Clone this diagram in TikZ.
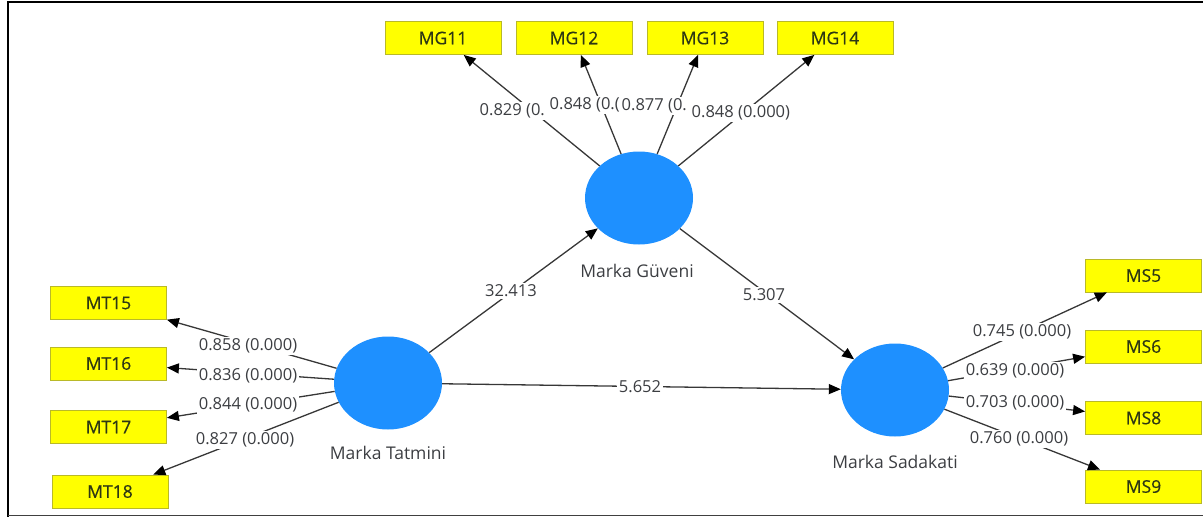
\documentclass[tikz,border=0pt]{standalone}
\usepackage{fontspec}
\setmainfont{Open Sans}
\newfontfamily\boxfont[FakeBold=0.4]{Open Sans}
\usetikzlibrary{shapes.geometric,arrows.meta}
\definecolor{lv}{RGB}{30,144,255}
\definecolor{ind}{RGB}{255,255,0}
\definecolor{indb}{RGB}{185,185,40}
\definecolor{ln}{RGB}{55,55,55}
\definecolor{txt}{RGB}{60,62,66}
\definecolor{boxtxt}{RGB}{45,55,20}
\begin{document}
\begin{tikzpicture}[x=1pt,y=-1pt,
 indbox/.style={draw=indb, fill=ind, line width=0.8pt, minimum width=116pt, minimum height=33pt, inner sep=0pt, font=\boxfont\fontsize{17.5}{19}\selectfont, text=boxtxt},
 latent/.style={ellipse, fill=lv, inner sep=0pt, minimum width=108pt, minimum height=93pt},
 lvlabel/.style={font=\fontsize{17.5}{19}\selectfont, text=txt},
 edgelbl/.style={fill=white, inner sep=1.5pt, font=\fontsize{16.5}{19}\selectfont, text=txt},
 arr/.style={draw=ln, line width=1.3pt, -{Triangle[length=12pt,width=10pt,color=black]}}]
\useasboundingbox (0,0) rectangle (1203,517);
% frame
\draw[line width=2.6pt] (8,517) -- (8,1.8) -- (1203,1.8);
\draw[line width=1.6pt, black!75] (8,515.6) -- (1203,515.6);
% latent variables
\node[latent] (MG) at (639,198) {};
\node[latent] (MT) at (388,383) {};
\node[latent] (MS) at (895,390) {};
\node[lvlabel] (MGl) at (637,271) {Marka Güveni};
\node[lvlabel] (MTl) at (388,453) {Marka Tatmini};
\node[lvlabel] (MSl) at (895,462) {Marka Sadakati};
% indicators
\node[indbox] (MG11) at (443,38) {MG11};
\node[indbox] (MG12) at (574,38) {MG12};
\node[indbox] (MG13) at (705,38) {MG13};
\node[indbox] (MG14) at (835,38) {MG14};
\node[indbox] (MT15) at (108.5,303) {MT15};
\node[indbox] (MT16) at (108.5,363.5) {MT16};
\node[indbox] (MT17) at (108.5,427) {MT17};
\node[indbox] (MT18) at (110,491.5) {MT18};
\node[indbox] (MS5) at (1143.5,275.5) {MS5};
\node[indbox] (MS6) at (1143.5,346.5) {MS6};
\node[indbox] (MS8) at (1143.5,418) {MS8};
\node[indbox] (MS9) at (1143.5,486.5) {MS9};
% connectors
\draw[arr] (MG) -- (MG11);
\draw[arr] (MG) -- (MG12);
\draw[arr] (MG) -- (MG13);
\draw[arr] (MG) -- (MG14);
\draw[arr] (MT) -- (MT15);
\draw[arr] (MT) -- (MT16);
\draw[arr] (MT) -- (MT17);
\draw[arr] (MT) -- (MT18);
\draw[arr] (MS) -- (MS5);
\draw[arr] (MS) -- (MS6);
\draw[arr] (MS) -- (MS8);
\draw[arr] (MS) -- (MS9);
\draw[arr] (MT) -- (MG);
\draw[arr] (MG) -- (MS);
\draw[arr] (MT) -- (MS);
% labels
\node[edgelbl, anchor=west] (l11) at (478,111) {0.829 (0.};
\node[edgelbl, anchor=west] (l12) at (548,105) {0.848 (0.(};
\node[edgelbl, anchor=west] (l13) at (620,106) {0.877 (0.};
\node[edgelbl, anchor=west] (l14) at (690,113) {0.848 (0.000)};
\node[edgelbl] (l15) at (248,346) {0.858 (0.000)};
\node[edgelbl] (l16) at (248,376) {0.836 (0.000)};
\node[edgelbl] (l17) at (248,405) {0.844 (0.000)};
\node[edgelbl] (l18) at (245,440) {0.827 (0.000)};
\node[edgelbl] (l5) at (1022,332) {0.745 (0.000)};
\node[edgelbl] (l6) at (1015,371) {0.639 (0.000)};
\node[edgelbl] (l8) at (1015,403) {0.703 (0.000)};
\node[edgelbl] (l9) at (1019,439) {0.760 (0.000)};
\node[edgelbl] (p1) at (511,291) {32.413};
\node[edgelbl] (p2) at (764,295) {5.307};
\node[edgelbl] (p3) at (640,387) {5.652};
\end{tikzpicture}
\end{document}
